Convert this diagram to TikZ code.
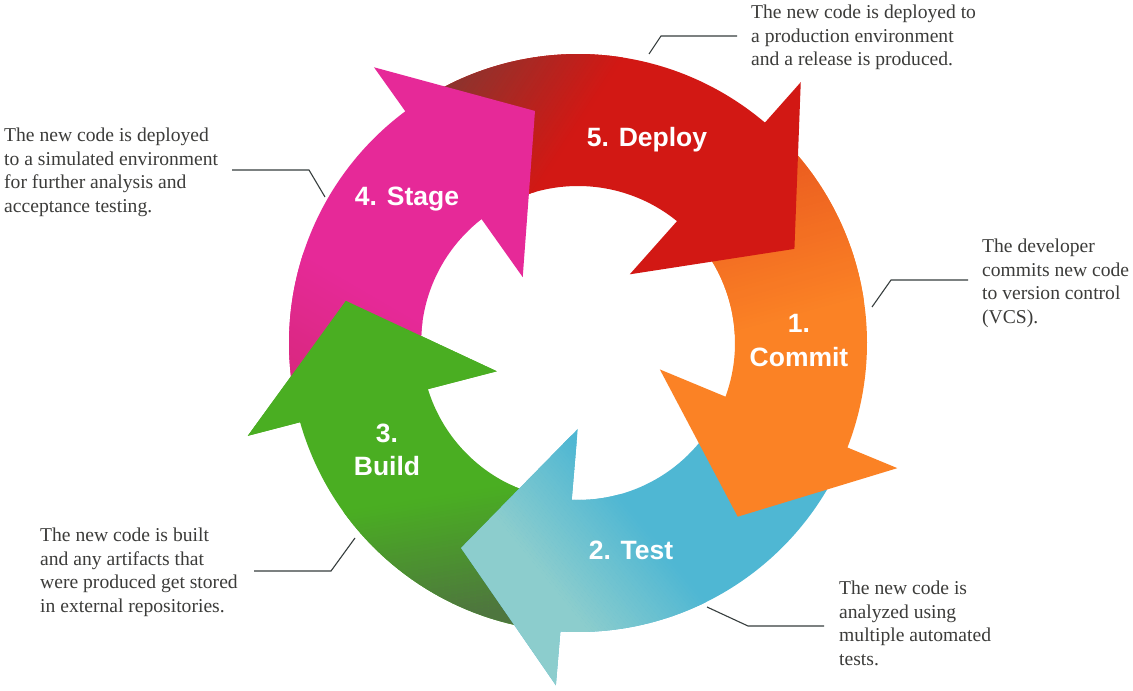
\documentclass[tikz,border=0pt]{standalone}
\usepackage{fontspec}
\setmainfont{Liberation Serif}
\newfontfamily\lblfont{Liberation Sans}

\definecolor{cRed}{RGB}{210,24,20}
\definecolor{cRedD}{RGB}{140,52,46}
\definecolor{cOrange}{RGB}{251,130,37}
\definecolor{cOrangeD}{RGB}{236,94,32}
\definecolor{cBlue}{RGB}{79,183,211}
\definecolor{cTeal}{RGB}{140,205,205}
\definecolor{cGreen}{RGB}{74,174,34}
\definecolor{cGreenD}{RGB}{78,118,62}
\definecolor{cPink}{RGB}{230,41,152}
\definecolor{cPinkD}{RGB}{216,40,126}
\definecolor{txt}{RGB}{60,60,58}
\definecolor{lead}{RGB}{55,62,62}

% arrow geometry: #1 tail angle, #2 outer barb angle
\newcommand\arrowgeom[2]{%
  \pgfmathsetmacro\aT{#1}%
  \pgfmathsetmacro\aO{#2+0.2}%
  \pgfmathsetmacro\aB{#2}%
  \pgfmathsetmacro\aTip{#2-26}%
  \pgfmathsetmacro\aI{#2+3.5}%
  \pgfmathsetmacro\aN{#2+1.4}}
\newcommand\apath{(\aT:289) arc[start angle=\aT, end angle=\aO, radius=289pt]
  -- (\aB:343) -- (\aTip:236) -- (\aI:86) -- (\aN:157)
  arc[start angle=\aN, end angle=\aT, radius=157pt] -- cycle}
% linear gradient overlay: #1,#2 start point, #3 angle, #4 length, #5 start colour, #6 end colour
\newcommand\gradfill[6]{%
  \begin{scope}[shift={(#1,#2)}, rotate=#3]
    \fill[#5] (-800,-800) rectangle (0.3,800);
    \foreach \k in {0,...,39}{%
      \pgfmathsetmacro\pc{100*(\k+0.5)/40}%
      \fill[#6!\pc!#5] ({#4*\k/40},-800) rectangle ({#4*(\k+1)/40+0.3},800);
    }
  \end{scope}}

\begin{document}
\begin{tikzpicture}[x=1pt,y=1pt,
  desc/.style={font=\fontsize{19.6}{23.6}\selectfont, text=txt, align=left, inner sep=0pt, anchor=north west},
  lbl/.style={font=\lblfont\bfseries\fontsize{26.5}{30}\selectfont, text=white, inner sep=0pt, anchor=base},
  leader/.style={draw=lead, line width=1.1pt}]
\useasboundingbox (0,0) rectangle (1133,691);
\fill[white] (0,0) rectangle (1133,691);

\begin{scope}[shift={(578,348)}]
  % 3. Build (green)
  \arrowgeom{-96.7}{-164.3}
  \fill[cGreen] \apath;
  \begin{scope}\clip \apath; \gradfill{-129}{-273}{99.1}{119.5}{cGreenD}{cGreen} \end{scope}
  % 2. Test (blue / teal)
  \arrowgeom{-24.4}{-93.7}
  \fill[cBlue] \apath;
  \begin{scope}\clip \apath; \gradfill{2}{-277}{39.1}{109.5}{cTeal}{cBlue} \end{scope}
  % 1. Commit (orange)
  \arrowgeom{46.5}{-21.4}
  \fill[cOrange] \apath;
  \begin{scope}\clip \apath; \gradfill{227}{183}{-74.6}{150}{cOrangeD}{cOrange} \end{scope}
  % 5. Deploy (red)
  \arrowgeom{123.5}{49.5}
  \fill[cRed] \apath;
  \begin{scope}\clip \apath; \gradfill{-110}{286}{-33.1}{130}{cRedD}{cRed} \end{scope}
  % 4. Stage (pink)
  \arrowgeom{192.7}{126.5}
  \fill[cPink] \apath;
  \begin{scope}\clip \apath; \gradfill{-286}{-37}{59.9}{115.6}{cPinkD}{cPink} \end{scope}
  % green head on top of the pink tail
  \arrowgeom{-96.7}{-164.3}
  \fill[cGreen] (\aB:343) -- (\aTip:236) -- (\aI:86) -- cycle;
\end{scope}

% labels
\node[lbl] (l5) at (647,544) {5. Deploy};
\node[lbl] (l4) at (407,485) {4. Stage};
\node[lbl] (l1a) at (799,358) {1.};
\node[lbl] (l1b) at (799,324) {Commit};
\node[lbl] (l3a) at (387,248) {3.};
\node[lbl] (l3b) at (387,215) {Build};
\node[lbl] (l2) at (631,131) {2. Test};

% descriptions
\node[desc] (d5) at (751,686) {The new code is deployed to\\a production environment\\and a release is produced.};
\node[desc] (d4) at (4,563) {The new code is deployed\\to a simulated environment\\for further analysis and\\acceptance testing.};
\node[desc] (d1) at (982,452) {The developer\\commits new code\\to version control\\(VCS).};
\node[desc] (d3) at (40,163) {The new code is built\\and any artifacts that\\were produced get stored\\in external repositories.};
\node[desc] (d2) at (839,110) {The new code is\\analyzed using\\multiple automated\\tests.};

% leader lines
\coordinate (p5a) at (649,637); \coordinate (p5b) at (661,655); \coordinate (p5c) at (737,655);
\coordinate (p4a) at (325,494); \coordinate (p4b) at (309,521); \coordinate (p4c) at (232,521);
\coordinate (p1a) at (872,384); \coordinate (p1b) at (891,411); \coordinate (p1c) at (968,411);
\coordinate (p3a) at (355,153); \coordinate (p3b) at (331,120); \coordinate (p3c) at (254,120);
\coordinate (p2a) at (707,84);  \coordinate (p2b) at (748,65);  \coordinate (p2c) at (824,65);
\draw[leader] (p5a) -- (p5b) -- (p5c);
\draw[leader] (p4a) -- (p4b) -- (p4c);
\draw[leader] (p1a) -- (p1b) -- (p1c);
\draw[leader] (p3a) -- (p3b) -- (p3c);
\draw[leader] (p2a) -- (p2b) -- (p2c);
\end{tikzpicture}
\end{document}
